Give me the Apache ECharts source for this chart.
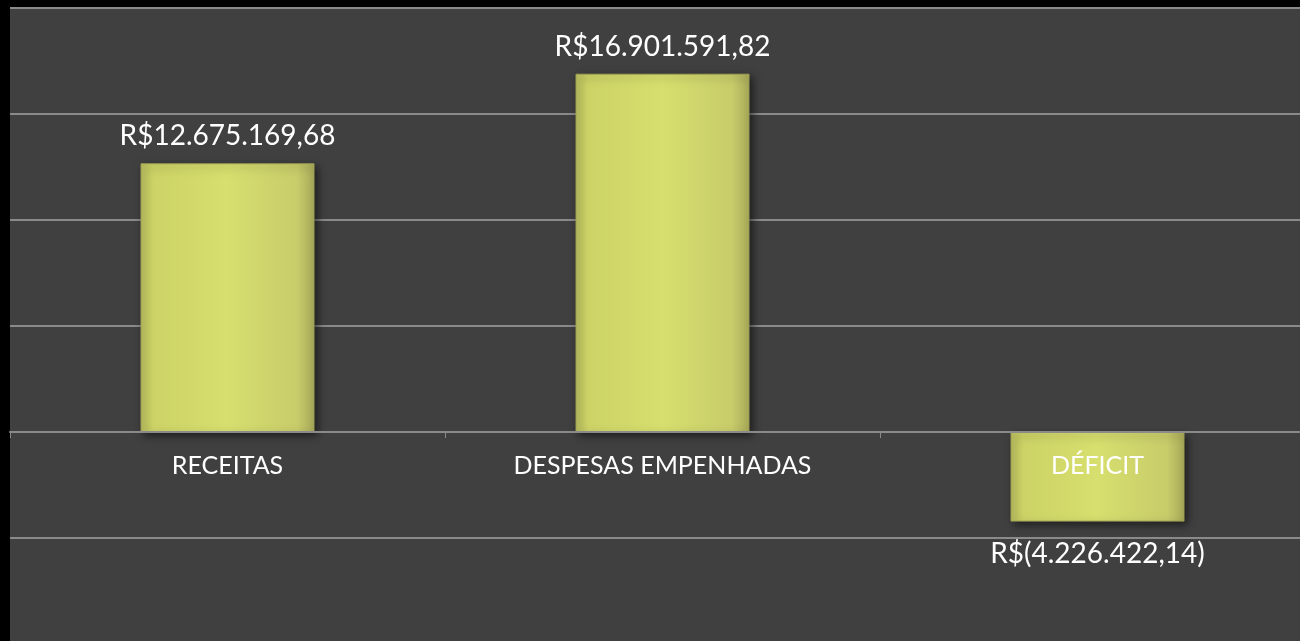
<!DOCTYPE html>
<html>
<head>
<meta charset="utf-8">
<script src="https://cdn.jsdelivr.net/npm/echarts@6/dist/echarts.min.js"></script>
<style>
html,body{margin:0;padding:0;background:#000;overflow:hidden;width:1300px;height:641px;}
#c{width:1315px;height:641px;}
</style>
</head>
<body>
<div id="c"></div>
<script>
var categories = ['RECEITAS', 'DESPESAS EMPENHADAS', 'DÉFICIT'];
var values = [12675169.68, 16901591.82, -4226422.14];
var valueLabels = ['R$12.675.169,68', 'R$16.901.591,82', 'R$(4.226.422,14)'];

var chart = echarts.init(document.getElementById('c'), null, {renderer: 'canvas'});
var barColor = new echarts.graphic.LinearGradient(0, 0, 1, 0, [
  {offset: 0, color: '#b9bd5e'},
  {offset: 0.07, color: '#cdd366'},
  {offset: 0.5, color: '#d7df6e'},
  {offset: 0.9, color: '#c8cc6a'},
  {offset: 1, color: '#a9aa5a'}
]);
var data = values.map(function (v, i) {
  return {
    value: v,
    label: {position: v < 0 ? 'bottom' : 'top', formatter: valueLabels[i], distance: v < 0 ? 18 : 13}
  };
});
var catData = categories.map(function (c) { return [c, 0]; });
chart.setOption({
  backgroundColor: '#000',
  animation: false,
  graphic: [{
    type: 'rect', left: 10, top: 7, z: -10,
    shape: {width: 1305, height: 634},
    style: {fill: '#404040'}
  }],
  grid: {left: 10, right: 0, top: 8, height: 530, containLabel: false},
  xAxis: {
    type: 'category',
    data: categories,
    z: 10,
    axisLine: {onZero: true, lineStyle: {color: '#8a8a8a', width: 2}},
    axisTick: {show: true, length: 6, lineStyle: {color: '#8a8a8a', width: 1}},
    axisLabel: {show: false}
  },
  yAxis: {
    type: 'value',
    min: -5000000, max: 20000000, interval: 5000000,
    axisLabel: {show: false},
    axisLine: {show: false},
    axisTick: {show: false},
    splitLine: {lineStyle: {color: '#8a8a8a', width: 2}}
  },
  series: [{
    type: 'bar',
    data: data,
    barWidth: '40%',
    itemStyle: {
      color: barColor,
      borderColor: '#9ea054',
      borderWidth: 1,
      shadowColor: 'rgba(0,0,0,0.55)',
      shadowBlur: 8,
      shadowOffsetX: 3,
      shadowOffsetY: 3
    },
    label: {
      show: true,
      color: '#ffffff',
      fontFamily: 'Lato',
      fontSize: 28
    }
  }, {
    type: 'scatter',
    data: catData,
    symbolSize: 0,
    z: 20,
    silent: true,
    itemStyle: {opacity: 1},
    label: {
      show: true,
      position: 'bottom',
      distance: 21,
      opacity: 1,
      formatter: function (p) { return p.name || p.value[0]; },
      color: '#ffffff',
      fontFamily: 'Lato',
      fontSize: 25
    }
  }]
});
</script>
</body>
</html>
